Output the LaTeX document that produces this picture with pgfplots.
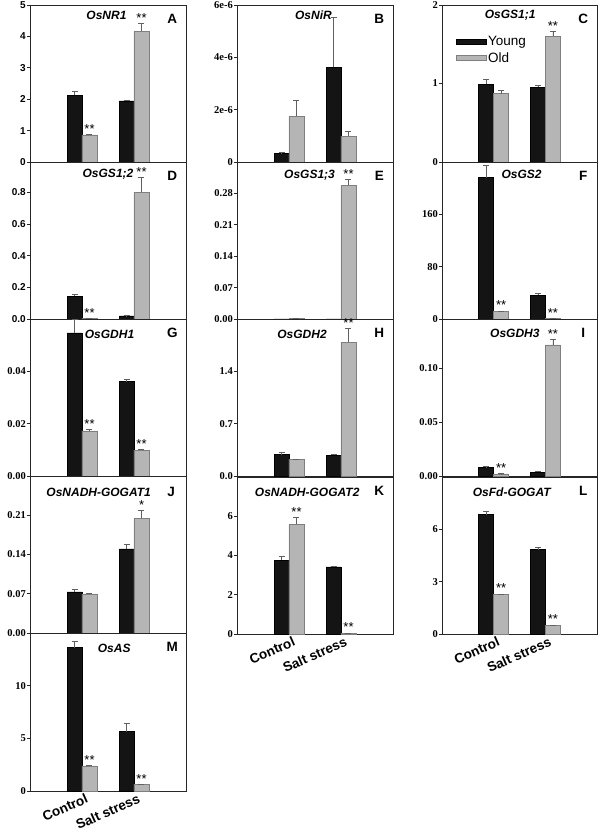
\documentclass[border=0pt]{standalone}
\usepackage{fontspec}
\setmainfont{Liberation Serif}
\setsansfont{Liberation Sans}
\usepackage{pgfplots}
\pgfplotsset{compat=1.18}
\definecolor{youngc}{HTML}{141414}
\definecolor{oldc}{HTML}{B5B5B5}
\definecolor{oldline}{HTML}{7F7F7F}
\definecolor{errc}{HTML}{606060}
\newcommand{\tickserif}{\fontsize{10.5}{12}\selectfont\bfseries}
\newcommand{\ticksans}{\fontsize{10}{12}\selectfont\sffamily\bfseries}
\newcommand{\titlefont}{\fontsize{12}{14}\selectfont\sffamily\bfseries\itshape}
\newcommand{\letterfont}{\fontsize{13.5}{15}\selectfont\sffamily\bfseries}
\newcommand{\catfont}{\fontsize{13.5}{15}\selectfont\sffamily\bfseries}
\newcommand{\starfont}{\fontsize{13}{14}\selectfont\sffamily}
\newcommand{\legfont}{\fontsize{13.5}{15}\selectfont\sffamily}
\tikzset{starnode/.style={anchor=south, inner sep=0.5pt, font=\starfont}}
\newcommand{\stars}[3]{\node[starnode] at (axis cs:#1,#2) {#3};}
\newcommand{\ttl}[3]{\node[font=\titlefont] at (rel axis cs:#1,#2) {#3};}
\newcommand{\lett}[1]{\node[font=\letterfont] at (rel axis cs:0.912,0.912) {#1};}
\pgfplotsset{
 panel/.style={
  scale only axis, width=156pt, height=157pt, anchor=south west,
  xmin=0, xmax=3, ymin=0, xtick={1,2}, xticklabels={},
  major x tick style={draw=none},
  scaled y ticks=false, scaled x ticks=false,
  ytick pos=left, xtick pos=bottom, ytick align=outside, major tick length=3pt,
  axis line style={line width=0.8pt, black!85},
  every tick/.style={black!85, line width=0.6pt},
  yticklabel style={font=\tickserif, inner sep=1pt},
  /pgf/number format/assume math mode=true,
  clip=false,
 },
 sanstick/.style={yticklabel style={font=\ticksans}},
 bottomlabels/.style={xticklabels={Control,Salt stress},
   xticklabel style={rotate=24, anchor=north east, font=\catfont, inner sep=1pt, xshift=3pt, yshift=-2pt}},
 young/.style={ybar, bar width=15pt, bar shift=0pt, fill=youngc, draw=black, line width=0.5pt,
   error bars/y dir=plus, error bars/y explicit,
   error bars/error bar style={line width=0.5pt, errc},
   error bars/error mark options={rotate=90, mark size=3pt, line width=0.5pt, errc},
   legend image code/.code={\filldraw[##1] (0pt,-2.5pt) rectangle (30pt,2.5pt);}},
 old/.style={ybar, bar width=15pt, bar shift=0pt, fill=oldc, draw=oldline, line width=0.5pt,
   error bars/y dir=plus, error bars/y explicit,
   error bars/error bar style={line width=0.5pt, errc},
   error bars/error mark options={rotate=90, mark size=3pt, line width=0.5pt, errc},
   legend image code/.code={\filldraw[##1] (0pt,-2.5pt) rectangle (30pt,2.5pt);}},
}
\begin{document}
\begin{tikzpicture}
\useasboundingbox (0pt,0pt) rectangle (600pt,831pt);
% A
\begin{axis}[panel, sanstick, at={(30pt,669pt)}, ymax=5, ytick={0,1,2,3,4,5}, yticklabels={0,1,2,3,4,5}]
\addplot[young] coordinates {(0.856,2.12) +- (0,0.13) (1.856,1.95) +- (0,0.03)};
\addplot[old] coordinates {(1.144,0.86) +- (0,0.03) (2.144,4.17) +- (0,0.25)};
\stars{1.145}{0.89}{**}\stars{2.145}{4.42}{**}
\ttl{0.49}{0.935}{OsNR1}\lett{A}
\end{axis}
% B
\begin{axis}[panel, at={(237pt,669pt)}, ymax=6e-6, ytick={0,2e-6,4e-6,6e-6}, yticklabels={0,2e-6,4e-6,6e-6}]
\addplot[young] coordinates {(0.856,0.34e-6) +- (0,0.02e-6) (1.856,3.62e-6) +- (0,1.93e-6)};
\addplot[old] coordinates {(1.144,1.75e-6) +- (0,0.60e-6) (2.144,0.99e-6) +- (0,0.18e-6)};
\ttl{0.49}{0.935}{OsNiR}\lett{B}
\end{axis}
% C
\begin{axis}[panel, at={(442pt,669pt)}, width=155pt, ymax=2, ytick={0,1,2}, yticklabels={0,1,2},
  legend style={draw=none, fill=none, at={(0.09,0.81)}, anchor=north west, font=\legfont, inner sep=0pt, row sep=2pt, nodes={inner sep=1.5pt}}, legend cell align=left]
\addplot[young] coordinates {(0.856,0.99) +- (0,0.06) (1.856,0.95) +- (0,0.03)};
\addlegendentry{Young}
\addplot[old] coordinates {(1.144,0.87) +- (0,0.05) (2.144,1.60) +- (0,0.06)};
\addlegendentry{Old}
\stars{2.145}{1.66}{**}
\ttl{0.44}{0.935}{OsGS1;1}\lett{C}
\end{axis}
% D
\begin{axis}[panel, sanstick, at={(30pt,512pt)}, ymax=0.99, ytick={0,0.2,0.4,0.6,0.8}, yticklabels={0.0,0.2,0.4,0.6,0.8}]
\addplot[young] coordinates {(0.856,0.142) +- (0,0.011) (1.856,0.020) +- (0,0.002)};
\addplot[old] coordinates {(1.144,0.006) +- (0,0.001) (2.144,0.80) +- (0,0.094)};
\stars{1.145}{0.008}{**}\stars{2.145}{0.894}{**}
\ttl{0.50}{0.925}{OsGS1;2}\lett{D}
\end{axis}
% E
\begin{axis}[panel, at={(237pt,512pt)}, ymax=0.35, ytick={0,0.07,0.14,0.21,0.28}, yticklabels={0.00,0.07,0.14,0.21,0.28}]
\addplot[young] coordinates {(0.856,0.0004) +- (0,0) (1.856,0.0004) +- (0,0)};
\addplot[old] coordinates {(1.144,0.0015) +- (0,0.0003) (2.144,0.298) +- (0,0.013)};
\stars{2.145}{0.311}{**}
\ttl{0.465}{0.917}{OsGS1;3}\lett{E}
\end{axis}
% F
\begin{axis}[panel, at={(442pt,512pt)}, width=155pt, ymax=240, ytick={0,80,160}, yticklabels={0,80,160}]
\addplot[young] coordinates {(0.856,216) +- (0,19) (1.856,36) +- (0,3.6)};
\addplot[old] coordinates {(1.144,11.6) +- (0,1.0) (2.144,1.2) +- (0,0.2)};
\stars{1.145}{12.8}{**}\stars{2.145}{1.6}{**}
\ttl{0.513}{0.92}{OsGS2}\lett{F}
\end{axis}
% G
\begin{axis}[panel, at={(30pt,355pt)}, ymax=0.06, ytick={0,0.02,0.04}, yticklabels={0.00,0.02,0.04}]
\addplot[young] coordinates {(0.856,0.0547) +- (0,0.0053) (1.856,0.0361) +- (0,0.001)};
\addplot[old] coordinates {(1.144,0.0172) +- (0,0.0007) (2.144,0.0099) +- (0,0.0003)};
\stars{1.145}{0.0180}{**}\stars{2.145}{0.0103}{**}
\ttl{0.51}{0.9}{OsGDH1}\lett{G}
\end{axis}
% H
\begin{axis}[panel, at={(237pt,355pt)}, ymax=2.1, ytick={0,0.7,1.4}, yticklabels={0.0,0.7,1.4}]
\addplot[young] coordinates {(0.856,0.286) +- (0,0.03) (1.856,0.278) +- (0,0.012)};
\addplot[old] coordinates {(1.144,0.224) +- (0,0.004) (2.144,1.79) +- (0,0.19)};
\stars{2.145}{1.98}{**}
\ttl{0.417}{0.904}{OsGDH2}\lett{H}
\end{axis}
% I
\begin{axis}[panel, at={(442pt,355pt)}, width=155pt, ymax=0.146, ytick={0,0.05,0.10}, yticklabels={0.00,0.05,0.10}]
\addplot[young] coordinates {(0.856,0.0081) +- (0,0.0007) (1.856,0.0037) +- (0,0.0011)};
\addplot[old] coordinates {(1.144,0.0019) +- (0,0.0002) (2.144,0.122) +- (0,0.0055)};
\stars{1.145}{0.0022}{**}\stars{2.145}{0.1275}{**}
\ttl{0.47}{0.91}{OsGDH3}\lett{I}
\end{axis}
% J
\begin{axis}[panel, at={(30pt,198pt)}, ymax=0.28, ytick={0,0.07,0.14,0.21}, yticklabels={0.00,0.07,0.14,0.21}]
\addplot[young] coordinates {(0.856,0.0732) +- (0,0.004) (1.856,0.150) +- (0,0.0077)};
\addplot[old] coordinates {(1.144,0.0696) +- (0,0.0015) (2.144,0.2047) +- (0,0.0143)};
\stars{2.145}{0.219}{*}
\ttl{0.44}{0.894}{OsNADH-GOGAT1}\node[font=\letterfont] at (rel axis cs:0.905,0.9) {J};
\end{axis}
% K
\begin{axis}[panel, bottomlabels, at={(237pt,197pt)}, ymax=8, ytick={0,2,4,6}, yticklabels={0,2,4,6}]
\addplot[young] coordinates {(0.856,3.75) +- (0,0.2) (1.856,3.42) +- (0,0.03)};
\addplot[old] coordinates {(1.144,5.58) +- (0,0.36) (2.144,0.05) +- (0,0.01)};
\stars{1.145}{5.94}{**}\stars{2.145}{0.07}{**}
\ttl{0.45}{0.9}{OsNADH-GOGAT2}\lett{K}
\end{axis}
% L
\begin{axis}[panel, bottomlabels, at={(442pt,197pt)}, width=155pt, ymax=9, ytick={0,3,6}, yticklabels={0,3,6}]
\addplot[young] coordinates {(0.856,6.84) +- (0,0.21) (1.856,4.84) +- (0,0.15)};
\addplot[old] coordinates {(1.144,2.27) +- (0,0.03) (2.144,0.50) +- (0,0.02)};
\stars{1.145}{2.32}{**}\stars{2.145}{0.54}{**}
\ttl{0.45}{0.9}{OsFd-GOGAT}\lett{L}
\end{axis}
% M
\begin{axis}[panel, bottomlabels, at={(30pt,40pt)}, height=158pt, ymax=15, ytick={0,5,10}, yticklabels={0,5,10}]
\addplot[young] coordinates {(0.856,13.62) +- (0,0.58) (1.856,5.64) +- (0,0.80)};
\addplot[old] coordinates {(1.144,2.38) +- (0,0.07) (2.144,0.64) +- (0,0.02)};
\stars{1.145}{2.47}{**}\stars{2.145}{0.68}{**}
\ttl{0.54}{0.905}{OsAS}\lett{M}
\end{axis}
\end{tikzpicture}
\end{document}
